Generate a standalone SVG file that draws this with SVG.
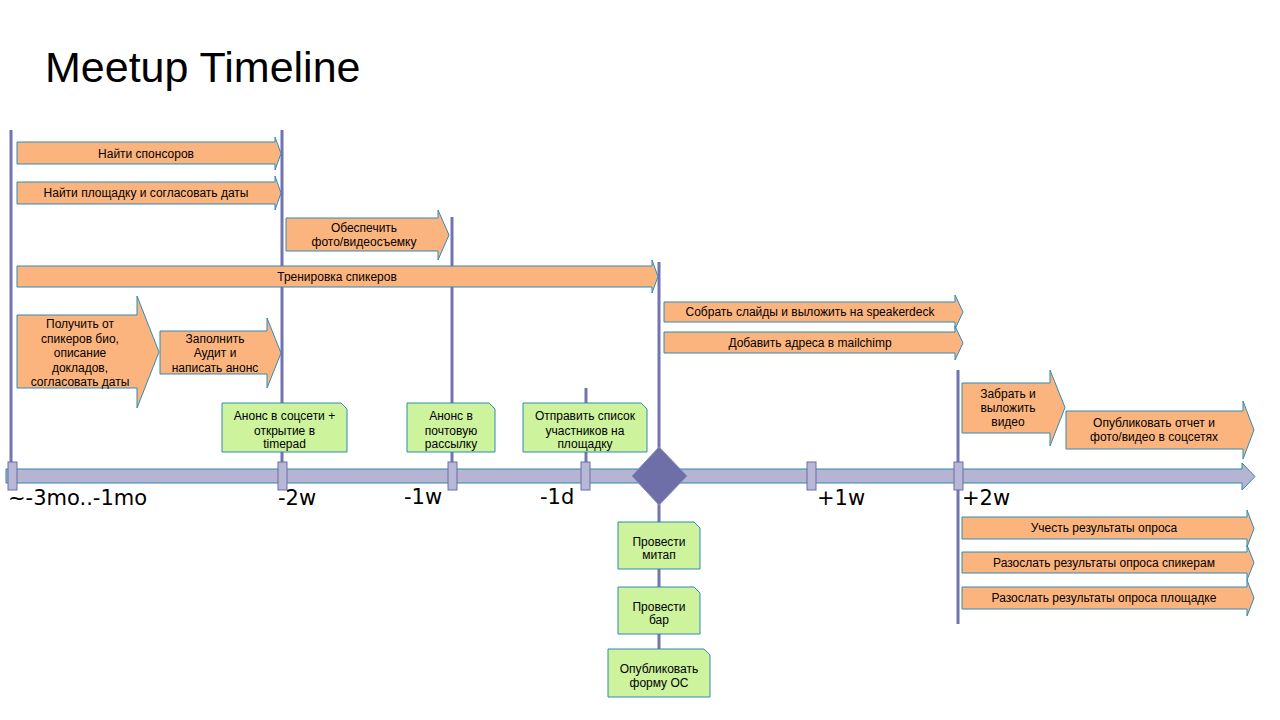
<svg xmlns="http://www.w3.org/2000/svg" width="1280" height="720" viewBox="0 0 1280 720">
<style>
.title{font-family:"Liberation Sans",Arial,sans-serif;font-size:43px;fill:#000}
.t{font-family:"Liberation Sans",Arial,sans-serif;font-size:12px;fill:#000;text-anchor:middle}
.ax{font-family:"DejaVu Sans",Verdana,sans-serif;font-size:21px;fill:#000}
.orange{fill:#fcb47f;stroke:#2f8ab6;stroke-width:1}
.green{fill:#cdf39d;stroke:#2f8ab6;stroke-width:1}
.vline{stroke:#7373b1;stroke-width:3;fill:none}
.tick{fill:#b7b7d6;stroke:#6c6ca9;stroke-width:1}
.axis{fill:#b5b5d3;stroke:#2f86b0;stroke-width:1}
</style>
<rect width="1280" height="720" fill="#fff"/>
<text class="title" x="45" y="82">Meetup Timeline</text>

<g id="connectors">
<line class="vline" x1="11" y1="130" x2="11" y2="462"/>
<line class="vline" x1="282" y1="130" x2="282" y2="462"/>
<line class="vline" x1="452" y1="217" x2="452" y2="462"/>
<line class="vline" x1="586" y1="388" x2="586" y2="462"/>
<line class="vline" x1="659" y1="262" x2="659" y2="649"/>
<line class="vline" x1="958" y1="370" x2="958" y2="624"/>
</g>

<g id="axis">
<path class="axis" d="M6,469 H1242 V463 L1255,476.5 L1242,490 V483 H6 Z"/>
<rect class="tick" x="8" y="462" width="9" height="28"/>
<rect class="tick" x="278" y="462" width="9" height="28"/>
<rect class="tick" x="448" y="462" width="9" height="28"/>
<rect class="tick" x="581" y="462" width="9" height="28"/>
<rect class="tick" x="807" y="462" width="9" height="28"/>
<rect class="tick" x="954" y="462" width="9" height="28"/>
<path d="M632,476 L659,447 L687,476 L659,505 Z" fill="#6f6fa7" stroke="#8a8ac0" stroke-width="1"/>
<text class="ax" x="8" y="505">~-3mo..-1mo</text>
<text class="ax" x="278" y="505">-2w</text>
<text class="ax" x="404" y="504">-1w</text>
<text class="ax" x="540" y="504">-1d</text>
<text class="ax" x="817" y="505">+1w</text>
<text class="ax" x="962" y="505">+2w</text>
</g>

<g id="sponsors">
<path class="orange" d="M17,142 H275 V137 L281,153.5 L275,170 V164 H17 Z"/>
<text class="t" x="146" y="157.5">Найти спонсоров</text>
</g>
<g id="venue">
<path class="orange" d="M17,182 H275 V176 L281,193 L275,210 V204 H17 Z"/>
<text class="t" x="146" y="197">Найти площадку и согласовать даты</text>
</g>
<g id="photo">
<path class="orange" d="M286,218 H438 V210 L449,235 L438,260 V251 H286 Z"/>
<text class="t" x="364" y="232">Обеспечить</text>
<text class="t" x="364" y="246">фото/видеосъемку</text>
</g>
<g id="training">
<path class="orange" d="M17,266 H652 V260 L658,276.5 L652,293 V287 H17 Z"/>
<text class="t" x="337" y="280.5">Тренировка спикеров</text>
</g>
<g id="bio">
<path class="orange" d="M17,315 H137 V296 L159,352 L137,408 V388 H17 Z"/>
<text class="t" x="80" y="328">Получить от</text>
<text class="t" x="80" y="343">спикеров био,</text>
<text class="t" x="80" y="357">описание</text>
<text class="t" x="80" y="372">докладов,</text>
<text class="t" x="80" y="386">согласовать даты</text>
</g>
<g id="audit">
<path class="orange" d="M160,331 H267 V318 L281,353 L267,388 V374 H160 Z"/>
<text class="t" x="215" y="343">Заполнить</text>
<text class="t" x="215" y="357">Аудит и</text>
<text class="t" x="215" y="372">написать анонс</text>
</g>

<g id="social">
<path class="green" d="M222,403 H341 L347,409 V452 H222 Z"/>
<text class="t" x="284.5" y="420">Анонс в соцсети +</text>
<text class="t" x="284.5" y="435">открытие в</text>
<text class="t" x="284.5" y="448">timepad</text>
</g>
<g id="mail">
<path class="green" d="M407,403 H489 L495,409 V452 H407 Z"/>
<text class="t" x="451" y="420">Анонс в</text>
<text class="t" x="451" y="435">почтовую</text>
<text class="t" x="451" y="448">рассылку</text>
</g>
<g id="list">
<path class="green" d="M523,403 H641 L647,409 V452 H523 Z"/>
<text class="t" x="585" y="420">Отправить список</text>
<text class="t" x="585" y="435">участников на</text>
<text class="t" x="585" y="448">площадку</text>
</g>

<g id="meetup">
<path class="green" d="M618,522 H694 L700,528 V569 H618 Z"/>
<text class="t" x="659" y="546">Провести</text>
<text class="t" x="659" y="559">митап</text>
</g>
<g id="bar">
<path class="green" d="M618,587 H694 L700,593 V634 H618 Z"/>
<text class="t" x="659" y="611">Провести</text>
<text class="t" x="659" y="624">бар</text>
</g>
<g id="form">
<path class="green" d="M608,649 H704 L710,655 V697 H608 Z"/>
<text class="t" x="659" y="673">Опубликовать</text>
<text class="t" x="659" y="687">форму ОС</text>
</g>

<g id="slides">
<path class="orange" d="M664,302 H955 V295 L963,312 L955,329 V322 H664 Z"/>
<text class="t" x="810" y="316">Собрать слайды и выложить на speakerdeck</text>
</g>
<g id="mailchimp">
<path class="orange" d="M664,332 H955 V326 L963,343 L955,360 V353 H664 Z"/>
<text class="t" x="810" y="347">Добавить адреса в mailchimp</text>
</g>
<g id="video">
<path class="orange" d="M962,383 H1050 V370 L1065,407.5 L1050,446 V433 H962 Z"/>
<text class="t" x="1008" y="398">Забрать и</text>
<text class="t" x="1008" y="412">выложить</text>
<text class="t" x="1008" y="426">видео</text>
</g>
<g id="report">
<path class="orange" d="M1066,411 H1243 V401 L1254,430 L1243,459 V449 H1066 Z"/>
<text class="t" x="1154" y="427">Опубликовать отчет и</text>
<text class="t" x="1154" y="441">фото/видео в соцсетях</text>
</g>
<g id="survey">
<path class="orange" d="M962,517 H1247 V510 L1254,528.5 L1247,547 V539 H962 Z"/>
<text class="t" x="1104" y="532">Учесть результаты опроса</text>
</g>
<g id="survey-speakers">
<path class="orange" d="M962,552 H1247 V545 L1254,562.5 L1247,580 V573 H962 Z"/>
<text class="t" x="1104" y="567">Разослать результаты опроса спикерам</text>
</g>
<g id="survey-venue">
<path class="orange" d="M962,587 H1247 V580 L1254,598 L1247,616 V609 H962 Z"/>
<text class="t" x="1104" y="602">Разослать результаты опроса площадке</text>
</g>
</svg>
